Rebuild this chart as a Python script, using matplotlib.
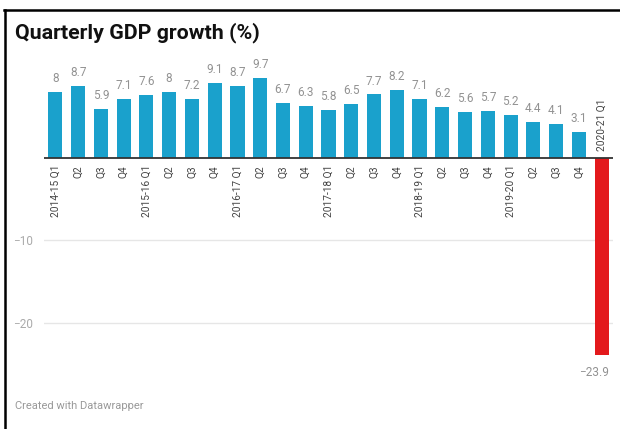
import matplotlib
matplotlib.use("Agg")
import matplotlib.pyplot as plt
from matplotlib.lines import Line2D

plt.rcParams['font.family'] = ['Roboto', 'DejaVu Sans']

# Data: quarterly GDP growth (%)
quarters = ["2014-15 Q1", "Q2", "Q3", "Q4",
            "2015-16 Q1", "Q2", "Q3", "Q4",
            "2016-17 Q1", "Q2", "Q3", "Q4",
            "2017-18 Q1", "Q2", "Q3", "Q4",
            "2018-19 Q1", "Q2", "Q3", "Q4",
            "2019-20 Q1", "Q2", "Q3", "Q4",
            "2020-21 Q1"]
growth = [8, 8.7, 5.9, 7.1,
          7.6, 8, 7.2, 9.1,
          8.7, 9.7, 6.7, 6.3,
          5.8, 6.5, 7.7, 8.2,
          7.1, 6.2, 5.6, 5.7,
          5.2, 4.4, 4.1, 3.1,
          -23.9]
yticks = [-10, -20]

W, H = 620, 429
fig = plt.figure(figsize=(W / 100, H / 100), dpi=100)

# axes placed in pixel terms
left, right, top, bottom = 44, 613, 60, 370
ax = fig.add_axes([left / W, 1 - bottom / H, (right - left) / W, (bottom - top) / H])

x = list(range(len(growth)))
colors = ["#1aa1cc" if v >= 0 else "#e3191c" for v in growth]
bw = 0.62
ax.bar(x, growth, width=bw, color=colors, zorder=3)

ax.set_xlim(-0.5, len(growth) - 0.5)
ax.set_ylim(-25.7, 11.88)

# gridlines + zero line
for t in yticks:
    ax.axhline(t, color="#e6e6e6", lw=1, zorder=1)
ax.axhline(0, color="#333333", lw=1.3, zorder=4)

ax.set_yticks(yticks)
ax.set_yticklabels([f"\u2212{abs(t)}" for t in yticks], color="#aaaaaa", fontsize=8.5)
ax.tick_params(axis="y", length=0, pad=8)
ax.set_xticks([])
for s in ax.spines.values():
    s.set_visible(False)

# value labels and category labels
for i, v in enumerate(growth):
    lab = f"{v:g}".replace("-", "\u2212")
    if v >= 0:
        ax.annotate(lab, (i, v), xytext=(0, 5), textcoords="offset points",
                    ha="center", va="bottom", color="#929292", fontsize=8.5)
        ax.annotate(quarters[i], (i, 0), xytext=(0, -5), textcoords="offset points",
                    ha="center", va="top", rotation=90, color="#444444", fontsize=7.3)
    else:
        ax.annotate(lab, (i + bw / 2, v), xytext=(0, -8), textcoords="offset points",
                    ha="right", va="top", color="#929292", fontsize=8.5)
        ax.annotate(quarters[i], (i, 0), xytext=(0, 5), textcoords="offset points",
                    ha="center", va="bottom", rotation=90, color="#444444", fontsize=7.3)

fig.text(15 / W, 1 - 33 / H, "Quarterly GDP growth (%)", fontsize=15.4, fontweight="bold",
         color="#111111", ha="left", va="center")
fig.text(15 / W, 1 - 406 / H, "Created with Datawrapper", fontsize=8,
         color="#999999", ha="left", va="center")

# black frame (top and left)
fig.add_artist(Line2D([4 / W, 1], [1 - 9.5 / H, 1 - 9.5 / H], color="black", lw=1.8,
                      transform=fig.transFigure))
fig.add_artist(Line2D([4.5 / W, 4.5 / W], [0, 1 - 9.5 / H], color="black", lw=1.8,
                      transform=fig.transFigure))

fig.savefig("out.png", dpi=100)
